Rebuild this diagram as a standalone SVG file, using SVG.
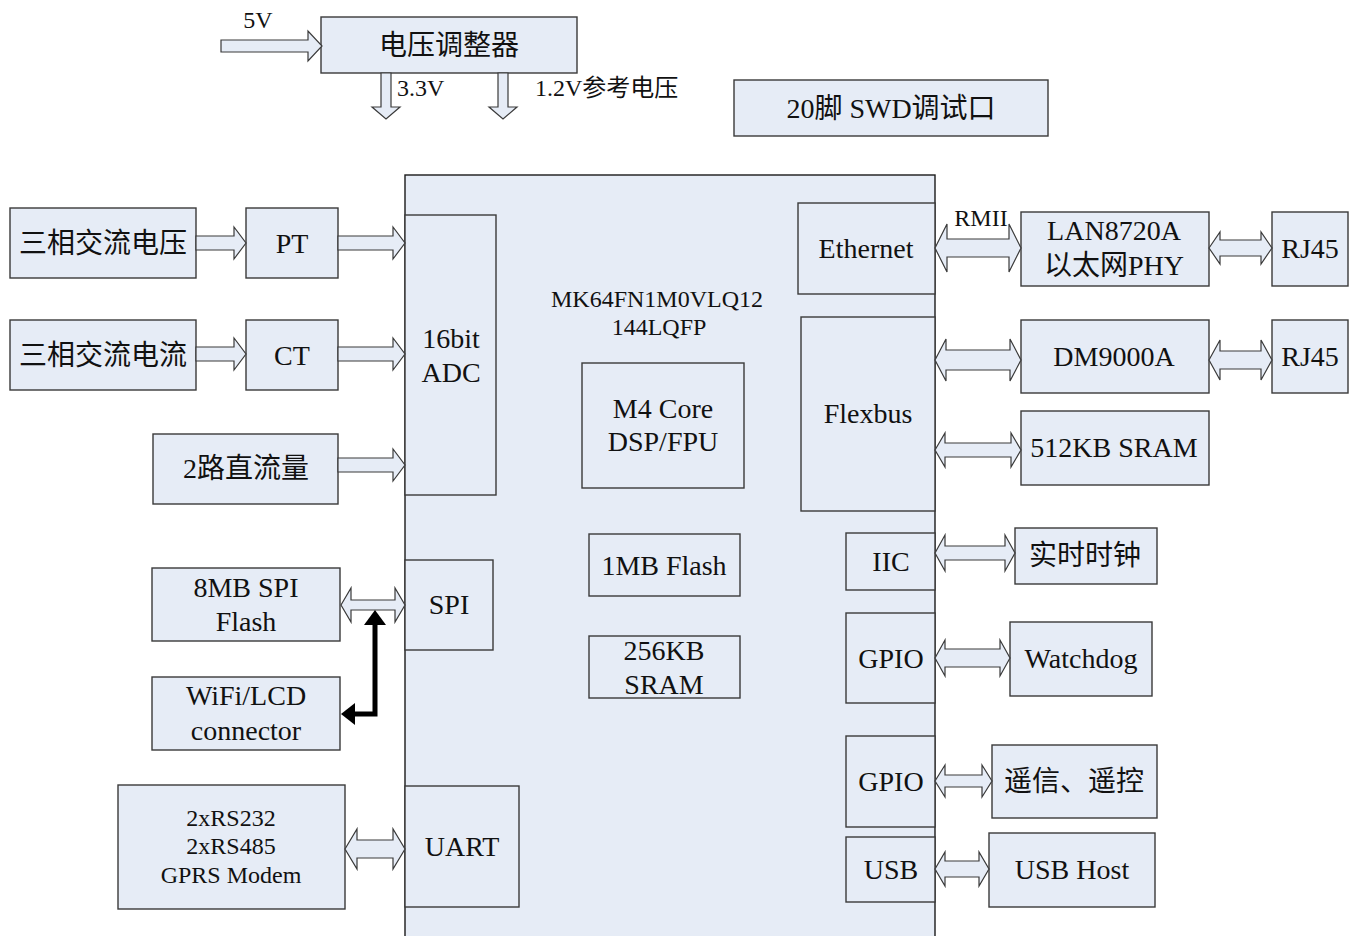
<svg xmlns="http://www.w3.org/2000/svg" width="1354" height="936" viewBox="0 0 1354 936">
<style>
.b{fill:#e6ecf6;stroke:#3a3a3a;stroke-width:1.4}
.mcu{fill:#e6ecf6;stroke:#1a1a1a;stroke-width:1.4}
.a{fill:#e6ecf6;stroke:#3a3a3a;stroke-width:1.2;stroke-linejoin:miter}
text{font-family:"Liberation Serif","Noto Sans CJK SC",serif;font-size:28px;fill:#111;text-anchor:middle;dominant-baseline:central}
.s22{font-size:24px}
.s24{font-size:24px}
.l{text-anchor:start}
</style>
<rect x="0" y="0" width="1354" height="936" fill="#ffffff"/>
<g id="mcu"><rect class="mcu" x="405" y="175" width="530" height="770"/>
<text class="s22" x="657" y="299">MK64FN1M0VLQ12</text>
<text class="s22" x="659" y="327">144LQFP</text></g>
<g id="regulator"><rect class="b" x="321" y="17" width="256" height="56"/><text x="449" y="45">电压调整器</text></g>
<g id="swd"><rect class="b" x="734" y="80" width="314" height="56"/><text x="891" y="108">20脚 SWD调试口</text></g>
<g id="adc"><rect class="b" x="405" y="215" width="91" height="280"/><text x="451" y="338">16bit</text><text x="451" y="372">ADC</text></g>
<g id="spi"><rect class="b" x="405" y="560" width="88" height="90"/><text x="449" y="604">SPI</text></g>
<g id="uart"><rect class="b" x="405" y="786" width="114" height="121"/><text x="462" y="846">UART</text></g>
<g id="m4core"><rect class="b" x="582" y="363" width="162" height="125"/><text x="663" y="408">M4 Core</text><text x="663" y="441">DSP/FPU</text></g>
<g id="flash1mb"><rect class="b" x="589" y="534" width="151" height="62"/><text x="664" y="565">1MB Flash</text></g>
<g id="sram256"><rect class="b" x="589" y="636" width="151" height="62"/><text x="664" y="650">256KB</text><text x="664" y="684">SRAM</text></g>
<g id="ethernet"><rect class="b" x="798" y="203" width="137" height="91"/><text x="866" y="248">Ethernet</text></g>
<g id="flexbus"><rect class="b" x="801" y="317" width="134" height="194"/><text x="868" y="413">Flexbus</text></g>
<g id="iic"><rect class="b" x="846" y="533" width="89" height="57"/><text x="891" y="561">IIC</text></g>
<g id="gpio1"><rect class="b" x="846" y="613" width="89" height="90"/><text x="891" y="658">GPIO</text></g>
<g id="gpio2"><rect class="b" x="846" y="736" width="89" height="91"/><text x="891" y="781">GPIO</text></g>
<g id="usb"><rect class="b" x="846" y="837" width="89" height="65"/><text x="891" y="869">USB</text></g>
<g id="ac-voltage"><rect class="b" x="10" y="208" width="186" height="70"/><text x="103" y="243">三相交流电压</text></g>
<g id="pt"><rect class="b" x="246" y="208" width="92" height="70"/><text x="292" y="243">PT</text></g>
<g id="ac-current"><rect class="b" x="10" y="320" width="186" height="70"/><text x="103" y="355">三相交流电流</text></g>
<g id="ct"><rect class="b" x="246" y="320" width="92" height="70"/><text x="292" y="355">CT</text></g>
<g id="dc"><rect class="b" x="153" y="434" width="185" height="70"/><text x="246" y="468">2路直流量</text></g>
<g id="spiflash"><rect class="b" x="152" y="568" width="188" height="73"/><text x="246" y="587">8MB SPI</text><text x="246" y="621">Flash</text></g>
<g id="wifi"><rect class="b" x="152" y="677" width="188" height="73"/><text x="246" y="695">WiFi/LCD</text><text x="246" y="730">connector</text></g>
<g id="serial"><rect class="b" x="118" y="785" width="227" height="124"/><text class="s24" x="231" y="818">2xRS232</text><text class="s24" x="231" y="846">2xRS485</text><text class="s24" x="231" y="875">GPRS Modem</text></g>
<g id="lan8720"><rect class="b" x="1021" y="212" width="188" height="74"/><text x="1114" y="230">LAN8720A</text><text x="1114" y="265">以太网PHY</text></g>
<g id="rj45a"><rect class="b" x="1272" y="212" width="76" height="74"/><text x="1310" y="248">RJ45</text></g>
<g id="dm9000"><rect class="b" x="1021" y="320" width="188" height="73"/><text x="1114" y="356">DM9000A</text></g>
<g id="rj45b"><rect class="b" x="1272" y="320" width="76" height="73"/><text x="1310" y="356">RJ45</text></g>
<g id="sram512"><rect class="b" x="1021" y="411" width="188" height="74"/><text x="1114" y="447">512KB SRAM</text></g>
<g id="rtc"><rect class="b" x="1015" y="528" width="142" height="56"/><text x="1085" y="555">实时时钟</text></g>
<g id="watchdog"><rect class="b" x="1010" y="622" width="142" height="74"/><text x="1081" y="658">Watchdog</text></g>
<g id="remote"><rect class="b" x="992" y="745" width="165" height="73"/><text x="1074" y="781">遥信、遥控</text></g>
<g id="usbhost"><rect class="b" x="989" y="833" width="166" height="74"/><text x="1072" y="869">USB Host</text></g>
<g id="connectors">
<polygon class="a" points="221,40 308,40 308,31 322,46 308,61 308,52 221,52"/>
<polygon class="a" points="381,73 391,73 391,107 400,107 386,119 372,107 381,107"/>
<polygon class="a" points="498,73 508,73 508,107 517,107 503,119 489,107 498,107"/>
<polygon class="a" points="196,236 234,236 234,227 246,243 234,259 234,250 196,250"/>
<polygon class="a" points="338,236 393,236 393,227 405,243 393,259 393,250 338,250"/>
<polygon class="a" points="196,347 234,347 234,338 246,354 234,370 234,361 196,361"/>
<polygon class="a" points="338,347 393,347 393,338 405,354 393,370 393,361 338,361"/>
<polygon class="a" points="338,458 393,458 393,449 405,465 393,481 393,472 338,472"/>
<polygon class="a" points="341,605 351,588 351,600 395,600 395,588 405,605 395,622 395,610 351,610 351,622"/>
<polygon class="a" points="345,849 357,829 357,840 393,840 393,829 405,849 393,869 393,858 357,858 357,869"/>
<path d="M375,624 V714 H354" fill="none" stroke="#000" stroke-width="5" stroke-linejoin="miter"/>
<polygon points="375,610 364,625 386,625" fill="#000"/>
<polygon points="341,714 355,703 355,725" fill="#000"/>
<polygon class="a" points="935,248 947,224 947,239 1009,239 1009,224 1021,248 1009,272 1009,257 947,257 947,272"/>
<polygon class="a" points="1209,248 1220,232 1220,240 1261,240 1261,232 1272,248 1261,264 1261,256 1220,256 1220,264"/>
<polygon class="a" points="935,360 946,339 946,350 1010,350 1010,339 1021,360 1010,381 1010,370 946,370 946,381"/>
<polygon class="a" points="1209,360 1220,340 1220,351 1261,351 1261,340 1272,360 1261,380 1261,369 1220,369 1220,380"/>
<polygon class="a" points="935,450 945,433 945,443 1011,443 1011,433 1021,450 1011,467 1011,457 945,457 945,467"/>
<polygon class="a" points="935,553 945,535 945,546 1005,546 1005,535 1015,553 1005,571 1005,560 945,560 945,571"/>
<polygon class="a" points="935,658 945,640 945,649 1000,649 1000,640 1010,658 1000,676 1000,667 945,667 945,676"/>
<polygon class="a" points="935,781 945,765 945,775 982,775 982,765 992,781 982,797 982,787 945,787 945,797"/>
<polygon class="a" points="935,869 945,852 945,861 979,861 979,852 989,869 979,886 979,877 945,877 945,886"/>
<text class="s22" x="258" y="20">5V</text>
<text class="s22 l" x="397" y="88">3.3V</text>
<text class="s22 l" x="535" y="88">1.2V参考电压</text>
<text class="s22" x="981" y="218">RMII</text>
</g>
</svg>
